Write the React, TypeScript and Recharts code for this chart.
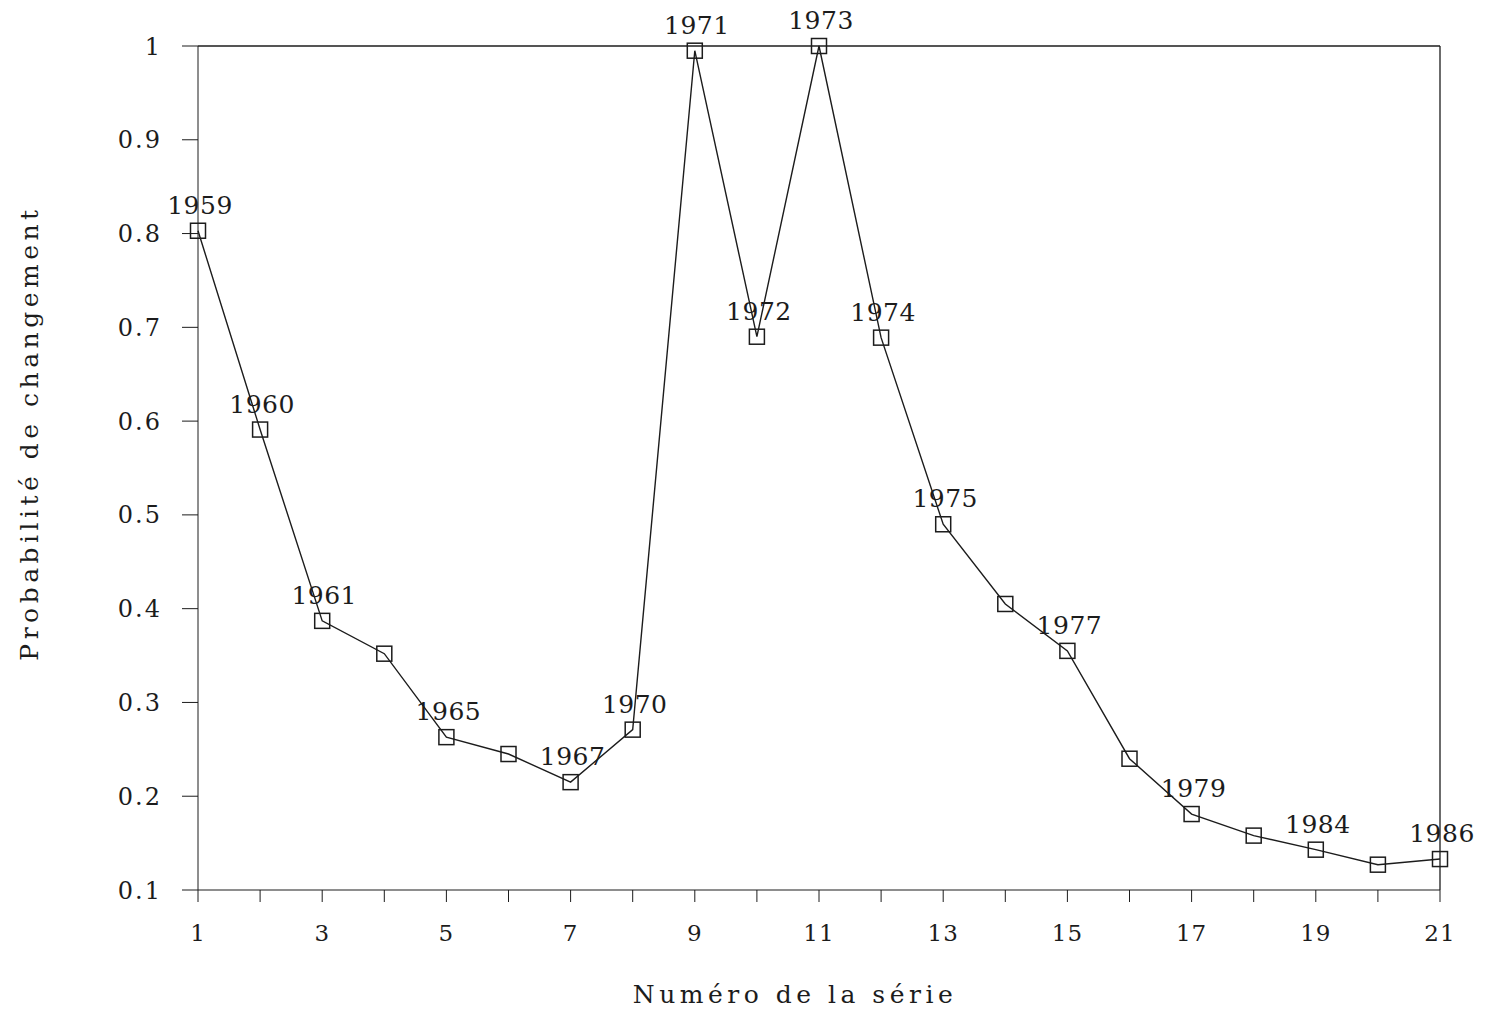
import { LineChart, Line, XAxis, YAxis, Label, LabelList, ReferenceLine } from 'recharts';

const serie = [1, 2, 3, 4, 5, 6, 7, 8, 9, 10, 11, 12, 13, 14, 15, 16, 17, 18, 19, 20, 21];
const probabilite = [
  0.803, 0.591, 0.387, 0.352, 0.263, 0.245, 0.215, 0.271, 0.995, 0.69, 1.0,
  0.689, 0.49, 0.405, 0.355, 0.24, 0.181, 0.158, 0.143, 0.127, 0.133,
];
const annees = [
  '1959', '1960', '1961', '', '1965', '', '1967', '1970', '1971', '1972', '1973',
  '1974', '1975', '', '1977', '', '1979', '', '1984', '', '1986',
];
const xTicks = serie;
const yTicks = [0.1, 0.2, 0.3, 0.4, 0.5, 0.6, 0.7, 0.8, 0.9, 1];

const data = serie.map((s, i) => ({ serie: s, p: probabilite[i], annee: annees[i] }));

const INK = '#1c1c1c';
const FONT = '"DejaVu Serif", "Liberation Serif", serif';

const SquareDot = (props: any) => {
  const { cx, cy } = props;
  if (cx == null || cy == null) return null;
  return <rect x={cx - 7.5} y={cy - 7.5} width={15} height={15} fill="none" stroke={INK} strokeWidth={1.5} />;
};

const YearLabel = (props: any) => {
  const { x, y, value } = props;
  if (!value) return null;
  return (
    <text x={x + 2} y={y - 17} textAnchor="middle" fontFamily={FONT} fontSize={25} fill={INK} letterSpacing={0.5}>
      {value}
    </text>
  );
};

export default function App() {
  return (
    <div style={{ position: 'absolute', left: 0, top: 0, width: 1491, height: 1012, background: '#fff' }}>
      <LineChart width={1491} height={1012} data={data} margin={{ top: 46, right: 51, bottom: 0, left: 0 }}>
        <XAxis
          dataKey="serie"
          type="number"
          domain={[1, 21]}
          ticks={xTicks}
          interval={0}
          height={122}
          tickSize={12}
          tickMargin={23}
          tickFormatter={(v: number) => (v % 2 === 1 ? String(v) : '')}
          stroke={INK}
          tick={{ fill: INK, fontFamily: FONT, fontSize: 23, letterSpacing: 1 }}
        >
          <Label
            content={() => (
              <text x={795} y={1003} textAnchor="middle" fontFamily={FONT} fontSize={25} fill={INK} letterSpacing={4.5}>
                Numéro de la série
              </text>
            )}
          />
        </XAxis>
        <YAxis
          type="number"
          domain={[0.1, 1]}
          ticks={yTicks}
          interval={0}
          width={198}
          tickSize={16}
          tickMargin={20}
          tickFormatter={(v: number) => (v === 1 ? '1' : v.toFixed(1))}
          stroke={INK}
          tick={{ fill: INK, fontFamily: FONT, fontSize: 24, letterSpacing: 2 }}
        >
          <Label
            content={() => (
              <text x={38} y={433} transform="rotate(-90 38 433)" textAnchor="middle" fontFamily={FONT} fontSize={25} fill={INK} letterSpacing={4.5}>
                Probabilité de changement
              </text>
            )}
          />
        </YAxis>
        <ReferenceLine y={1} stroke={INK} strokeWidth={1.3} />
        <ReferenceLine x={21} stroke={INK} strokeWidth={1.3} />
        <Line
          dataKey="p"
          stroke={INK}
          strokeWidth={1.4}
          dot={<SquareDot />}
          activeDot={false}
          isAnimationActive={false}
        >
          <LabelList dataKey="annee" content={<YearLabel />} />
        </Line>
      </LineChart>
    </div>
  );
}
